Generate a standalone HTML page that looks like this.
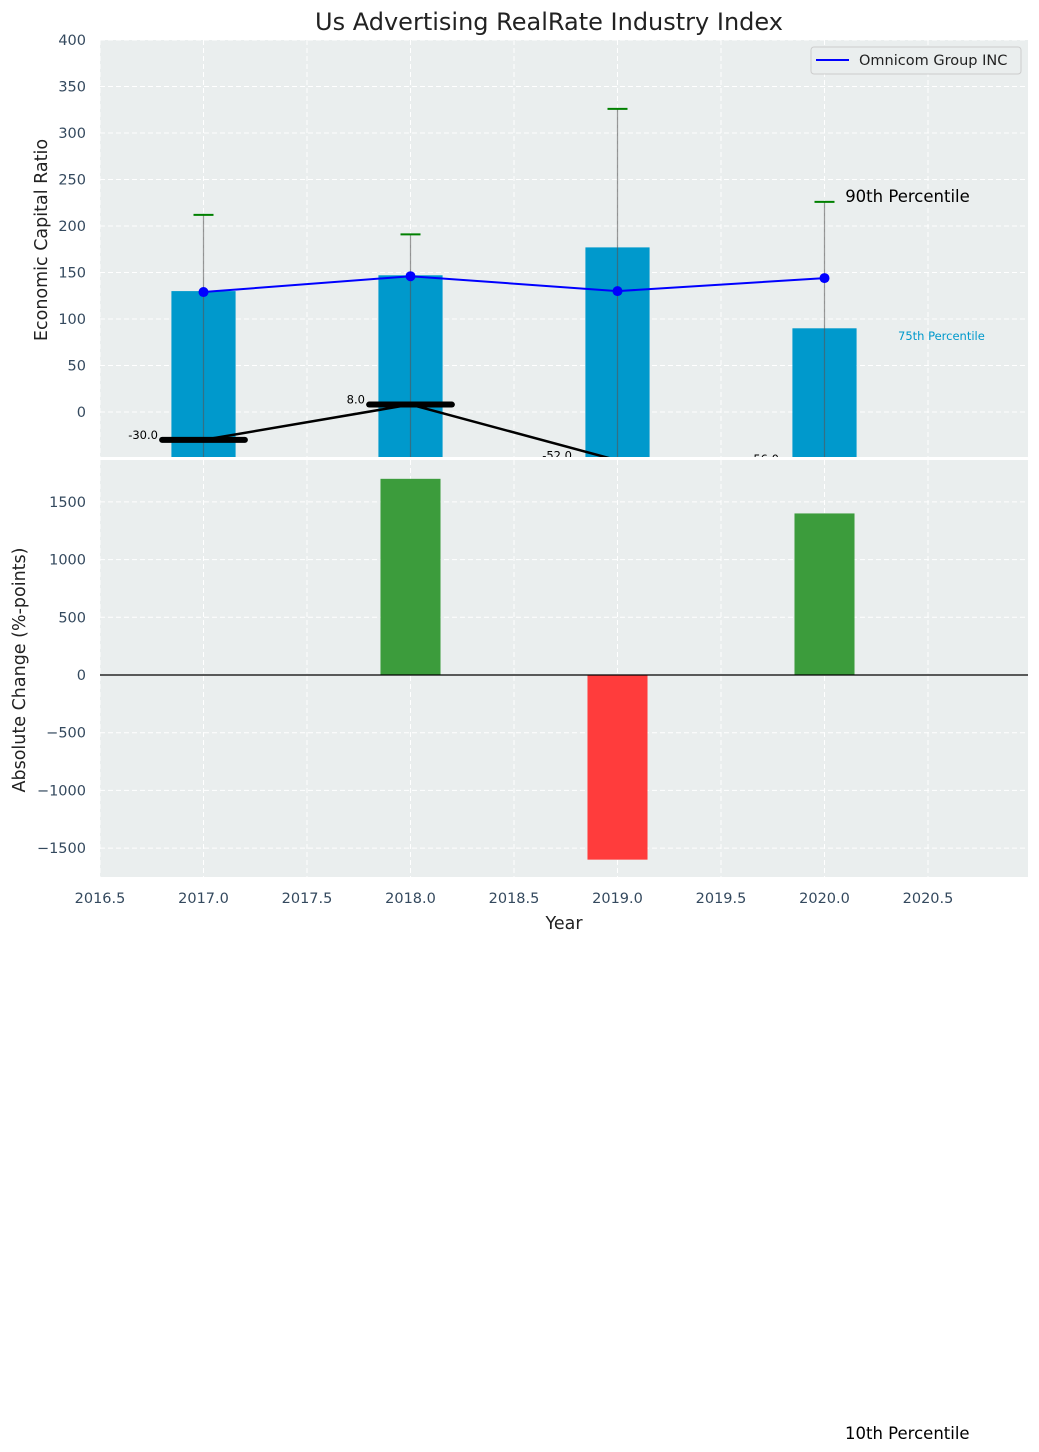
<!DOCTYPE html>
<html><head><meta charset="utf-8"><style>
body{margin:0;background:#fff;}
svg{display:block;font-family:"DejaVu Sans","Liberation Sans",sans-serif;}
</style></head><body>
<svg id="c" width="1039" height="1452" viewBox="0 0 1039 1452"></svg>
<script>
const years=[2017,2018,2019,2020];
const barVals=[130,147,177,90];
const lineVals=[129,146,130,144];
const errTop=[212,191,326,226];
const blackVals=[-30,8,-52,-56];
const changeVals=[0,1700,-1600,1400];
const topTicks=[0,50,100,150,200,250,300,350,400];
const botTicks=[-1500,-1000,-500,0,500,1000,1500];
const xTicks=[2016.5,2017,2017.5,2018,2018.5,2019,2019.5,2020,2020.5];

const NS="http://www.w3.org/2000/svg";
const svg=document.getElementById('c');
function el(t,a,p){const e=document.createElementNS(NS,t);for(const k in a)e.setAttribute(k,a[k]);(p||svg).appendChild(e);return e;}
const L=100,R=1028;
const X=v=>L+(v-2016.5)*207;
const T0=40,T1=457,B0=460,B1=877;
const YT=v=>412-v*0.93;
const YB=v=>675-v*(57.7/500);

const defs=el('defs',{});
const cp1=el('clipPath',{id:'ct'},defs);el('rect',{x:L,y:T0,width:R-L,height:T1-T0},cp1);
const cp2=el('clipPath',{id:'cb'},defs);el('rect',{x:L,y:B0,width:R-L,height:B1-B0},cp2);

let t=el('text',{x:549,y:30,'text-anchor':'middle','font-size':24,fill:'#222'});t.textContent='Us Advertising RealRate Industry Index';


let bg=el('rect',{x:L,y:T0,width:R-L,height:T1-T0,fill:'#eaeeee'});

const gt=el('g',{'clip-path':'url(#ct)'});
xTicks.forEach(v=>el('line',{x1:X(v),x2:X(v),y1:T0,y2:T1,stroke:'#fff','stroke-dasharray':'5,3','stroke-width':1},gt));
topTicks.forEach(v=>{el('line',{x1:L,x2:R,y1:YT(v),y2:YT(v),stroke:'#fff','stroke-dasharray':'5,3'},gt);
 const tl=el('text',{x:86,y:YT(v)+5,'text-anchor':'end','font-size':14.5,fill:'#34495e'});tl.textContent=v;
 });
years.forEach((y,i)=>{const b=el('rect',{x:X(y-0.155),y:YT(barVals[i]),width:0.31*207,height:YT(-60)-YT(barVals[i]),fill:'#0099cc'},gt);
 });
years.forEach((y,i)=>{el('line',{x1:X(y),x2:X(y),y1:YT(errTop[i]),y2:T1,stroke:'#555','stroke-opacity':0.6,'stroke-width':1.2},gt);
 const c=el('line',{x1:X(y)-10,x2:X(y)+10,y1:YT(errTop[i]),y2:YT(errTop[i]),stroke:'#008000','stroke-width':2},gt);
 });
let lp=el('polyline',{points:years.map((y,i)=>X(y)+','+YT(lineVals[i])).join(' '),fill:'none',stroke:'#0000ff','stroke-width':2},gt);

years.forEach((y,i)=>{const p=el('circle',{cx:X(y),cy:YT(lineVals[i]),r:5,fill:'#0000ff'},gt);
 });
let bp=el('polyline',{points:years.map((y,i)=>X(y)+','+YT(blackVals[i])).join(' '),fill:'none',stroke:'#000','stroke-width':2.5},gt);

years.forEach((y,i)=>{el('line',{x1:X(y-0.2),x2:X(y+0.2),y1:YT(blackVals[i]),y2:YT(blackVals[i]),stroke:'#000','stroke-width':6,'stroke-linecap':'round'},gt);
 const lb=el('text',{x:X(y-0.22),y:YT(blackVals[i])-1,'text-anchor':'end','font-size':11.5,fill:'#000'},gt);lb.textContent=blackVals[i].toFixed(1);
 });
t=el('text',{x:X(2020.1),y:YT(232)+6,'font-size':16.5,fill:'#000'},gt);t.textContent='90th Percentile';

t=el('text',{x:898,y:340,'font-size':11.5,fill:'#0099cc'},gt);t.textContent='75th Percentile';

t=el('text',{x:-240,y:47,transform:'rotate(-90)','text-anchor':'middle','font-size':17.5,fill:'#222'});t.textContent='Economic Capital Ratio';

const lg=el('g',{});
el('rect',{x:811,y:47,width:210,height:27,rx:3,fill:'#eaeeee',stroke:'#ccc'},lg);
el('line',{x1:816,x2:849,y1:60,y2:60,stroke:'#0000ff','stroke-width':2},lg);
t=el('text',{x:859,y:65,'font-size':14.5,fill:'#222'},lg);t.textContent='Omnicom Group INC';

bg=el('rect',{x:L,y:B0,width:R-L,height:B1-B0,fill:'#eaeeee'});

const gb=el('g',{'clip-path':'url(#cb)'});
xTicks.forEach(v=>el('line',{x1:X(v),x2:X(v),y1:B0,y2:B1,stroke:'#fff','stroke-dasharray':'5,3'},gb));
botTicks.forEach(v=>{el('line',{x1:L,x2:R,y1:YB(v),y2:YB(v),stroke:'#fff','stroke-dasharray':'5,3'},gb);
 const tl=el('text',{x:86,y:YB(v)+5,'text-anchor':'end','font-size':14.5,fill:'#34495e'});tl.textContent=v<0?'\u2212'+(-v):v;
 });
years.forEach((y,i)=>{const v=changeVals[i];if(!v)return;
 const b=el('rect',{x:X(y-0.145),y:Math.min(YB(v),YB(0)),width:0.29*207,height:Math.abs(YB(v)-YB(0)),fill:v>0?'#3c9c3c':'#ff3c3c'},gb);
 });
el('line',{x1:L,x2:R,y1:YB(0),y2:YB(0),stroke:'#000','stroke-width':1.2},gb);
xTicks.forEach(v=>{const tl=el('text',{x:X(v),y:903,'text-anchor':'middle','font-size':14.5,fill:'#34495e'});tl.textContent=v.toFixed(1);
 });
t=el('text',{x:564,y:929,'text-anchor':'middle','font-size':17.5,fill:'#222'});t.textContent='Year';

t=el('text',{x:-670,y:25,transform:'rotate(-90)','text-anchor':'middle','font-size':17.5,fill:'#222'});t.textContent='Absolute Change (%-points)';

t=el('text',{x:845,y:1439,'font-size':16.5,fill:'#000'});t.textContent='10th Percentile';

</script>
</body></html>
